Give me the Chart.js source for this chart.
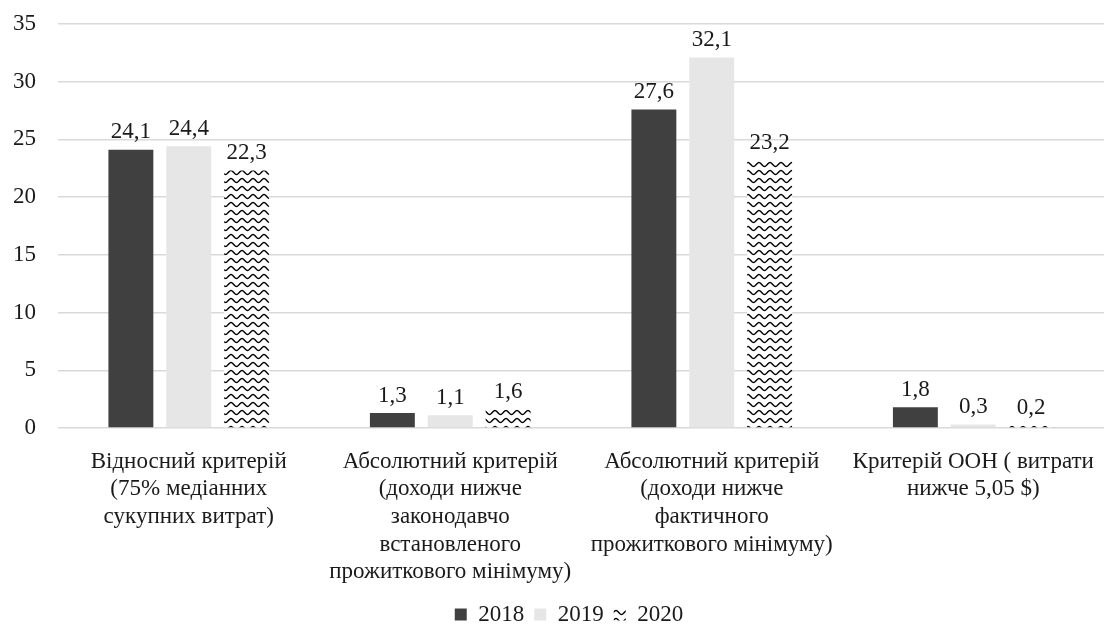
<!DOCTYPE html>
<html>
<head>
<meta charset="utf-8">
<script src="https://cdn.jsdelivr.net/npm/chart.js@4"></script>
<style>
  html, body { margin: 0; padding: 0; background: #fff; }
  #wrap { width: 1105px; height: 626px; }
</style>
</head>
<body>
<div id="wrap"><canvas id="chart"></canvas></div>
<script>
// data
const categories = [
  ['Відносний критерій', '(75% медіанних', 'сукупних витрат)'],
  ['Абсолютний критерій', '(доходи нижче', 'законодавчо', 'встановленого', 'прожиткового мінімуму)'],
  ['Абсолютний критерій', '(доходи нижче', 'фактичного', 'прожиткового мінімуму)'],
  ['Критерій ООН ( витрати', 'нижче 5,05 $)']
];
const years = ['2018', '2019', '2020'];
const values2018 = [24.1, 1.3, 27.6, 1.8];
const values2019 = [24.4, 1.1, 32.1, 0.3];
const values2020 = [22.3, 1.6, 23.2, 0.2];
const yTicks = [0, 5, 10, 15, 20, 25, 30, 35];

const FONT = '"Liberation Serif", "Times New Roman", serif';
const TEXT = '#1a1a1a';

// wavy pattern for 2020
function wavePattern() {
  const c = document.createElement('canvas');
  c.width = 11; c.height = 8;
  const g = c.getContext('2d');
  g.fillStyle = '#fff';
  g.fillRect(0, 0, 11, 8);
  g.strokeStyle = '#000';
  g.lineWidth = 1.4;
  g.beginPath();
  for (let x = -1; x <= 12; x += 0.5) {
    const y = 4.5 - 2 * Math.cos((x / 11) * 2 * Math.PI);
    if (x === -1) g.moveTo(x, y); else g.lineTo(x, y);
  }
  g.stroke();
  return g.createPattern(c, 'repeat');
}

// value labels above bars, comma decimals
const valueLabels = {
  id: 'valueLabels',
  afterDatasetsDraw(chart) {
    const ctx = chart.ctx;
    ctx.save();
    ctx.font = '23px ' + FONT;
    ctx.fillStyle = TEXT;
    ctx.textAlign = 'center';
    ctx.textBaseline = 'bottom';
    chart.data.datasets.forEach((ds, i) => {
      chart.getDatasetMeta(i).data.forEach((bar, j) => {
        ctx.fillText(ds.data[j].toFixed(1).replace('.', ','), bar.x, bar.y - 6);
      });
    });
    ctx.restore();
  }
};

// nudge legend down / right like the original, and let the long x labels run past the axis box
const layoutTweaks = {
  id: 'layoutTweaks',
  afterLayout(chart) {
    const lg = chart.legend;
    if (lg) {
      lg.top += 10; lg.bottom += 10;
      lg.left += 17; lg.right += 17;
    }
    chart.scales.x.bottom = chart.height;
  }
};

new Chart(document.getElementById('chart'), {
  type: 'bar',
  data: {
    labels: categories,
    datasets: [
      { label: years[0], data: values2018, backgroundColor: '#404040' },
      { label: years[1], data: values2019, backgroundColor: '#e7e6e6' },
      { label: years[2], data: values2020, backgroundColor: wavePattern() }
    ]
  },
  options: {
    responsive: true,
    maintainAspectRatio: false,
    animation: false,
    layout: { padding: { top: 24, right: 1, left: 0, bottom: 0 } },
    datasets: {
      bar: { categoryPercentage: 0.664, barPercentage: 0.776 }
    },
    scales: {
      x: {
        grid: { display: false },
        border: { display: false },
        afterFit: (s) => { s.height = 155; s.paddingLeft = 0; s.paddingRight = 0; },
        ticks: {
          color: TEXT,
          font: { family: FONT, size: 23 },
          maxRotation: 0,
          autoSkip: false,
          padding: 12
        }
      },
      y: {
        min: 0,
        max: 35,
        afterBuildTicks: (axis) => { axis.ticks = yTicks.map(v => ({ value: v })); },
        afterFit: (s) => { s.width = 58; s.paddingTop = 0; s.paddingBottom = 0; },
        grid: { color: '#d9d9d9', lineWidth: 1.5, drawTicks: false },
        border: { display: false },
        ticks: {
          color: TEXT,
          font: { family: FONT, size: 23 },
          padding: 22
        }
      }
    },
    plugins: {
      legend: {
        position: 'bottom',
        labels: {
          color: TEXT,
          font: { family: FONT, size: 23 },
          boxWidth: 12,
          boxHeight: 12,
          padding: 10
        }
      },
      tooltip: { enabled: false }
    }
  },
  plugins: [valueLabels, layoutTweaks]
});
</script>
</body>
</html>
